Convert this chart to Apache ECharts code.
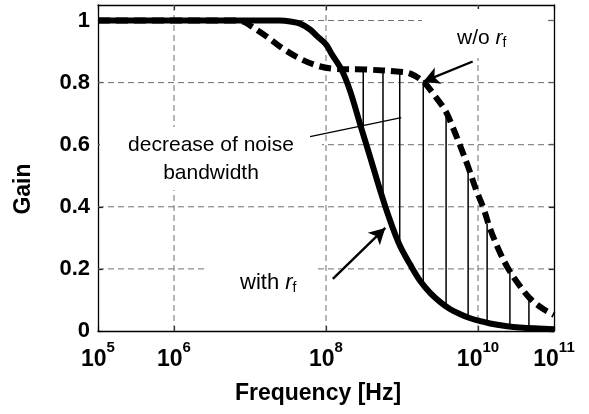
<!DOCTYPE html>
<html>
<head>
<meta charset="utf-8">
<script src="https://cdn.jsdelivr.net/npm/echarts@6.0.0/dist/echarts.min.js"></script>
<style>
  html, body { margin: 0; padding: 0; background: #fff; }
  #chart { width: 589px; height: 414px; }
</style>
</head>
<body>
<div id="chart"></div>
<script>
// Frequency is plotted as its decade exponent: f = 10^exp Hz
const decadeLabels = [5, 6, 8, 10, 11];
const decadeGrid = [6, 8, 10];
const gainTicks = [0, 0.2, 0.4, 0.6, 0.8, 1];
const gainGrid = [0.2, 0.4, 0.6, 0.8, 1];

// Response with the feedback resistor r_f
const withRfExp  = [5.0, 7.0, 7.39, 7.53, 7.66, 7.79, 7.89, 8.0, 8.08, 8.21, 8.32, 8.45, 8.58, 8.71, 8.84, 8.97, 9.11, 9.24, 9.37, 9.50, 9.63, 9.76, 9.89, 10.03, 10.16, 10.36, 10.55, 11.0];
const withRfGain = [1.0, 1.0, 1.0, 0.997, 0.99, 0.971, 0.948, 0.923, 0.89, 0.839, 0.771, 0.665, 0.561, 0.455, 0.358, 0.276, 0.213, 0.161, 0.123, 0.094, 0.071, 0.055, 0.042, 0.032, 0.024, 0.016, 0.011, 0.006];

// Response without r_f
const woRfExp  = [5.0, 6.74, 6.91, 7.0, 7.22, 7.43, 7.66, 7.88, 8.09, 8.54, 8.97, 9.11, 9.28, 9.43, 9.57, 9.66, 9.76, 9.87, 9.97, 10.07, 10.16, 10.29, 10.40, 10.53, 10.68, 10.84, 11.0];
const woRfGain = [1.0, 1.0, 0.997, 0.984, 0.948, 0.910, 0.877, 0.855, 0.845, 0.842, 0.835, 0.829, 0.803, 0.758, 0.710, 0.661, 0.600, 0.529, 0.458, 0.397, 0.329, 0.252, 0.200, 0.152, 0.106, 0.074, 0.052];

// Hatching between the two responses (bandwidth reduction)
const hatchExp    = [8.49, 8.75, 8.97, 9.28, 9.58, 9.87, 10.12, 10.42, 10.67];
const hatchTop    = [0.842, 0.839, 0.835, 0.803, 0.703, 0.529, 0.345, 0.194, 0.103];
const hatchBottom = [0.632, 0.425, 0.276, 0.148, 0.077, 0.045, 0.026, 0.015, 0.010];

// Annotation pointers, in (exp, gain)
const withRfArrow = [[8.09, 0.168], [8.78, 0.332]];
const woRfArrow = [[9.93, 0.868], [9.28, 0.803]];
const bandwidthLeader = [[7.79, 0.626], [8.99, 0.687]];

const FONT = 'Liberation Sans, Arial, Helvetica, sans-serif';
const BLACK = '#000';
const GRID_STYLE = { stroke: '#6f6f6f', lineWidth: 1, lineDash: [6, 4] };

const chart = echarts.init(document.getElementById('chart'), null, { renderer: 'canvas' });

const xAxisBase = {
  type: 'value', min: 5, max: 11, interval: 1,
  axisLine: { show: true, onZero: false, lineStyle: { color: BLACK, width: 1.3 } },
  axisTick: { show: true, inside: true, length: 5, customValues: decadeLabels, lineStyle: { color: BLACK, width: 1.2 } },
  splitLine: { show: false }
};
const yAxisBase = {
  type: 'value', min: 0, max: 1.05, interval: 0.2,
  axisLine: { show: true, onZero: false, lineStyle: { color: BLACK, width: 1.3 } },
  axisTick: { show: true, inside: true, length: 5, customValues: gainTicks, lineStyle: { color: BLACK, width: 1.2 } },
  splitLine: { show: false }
};

const option = {
  animation: false,
  backgroundColor: '#fff',
  grid: { left: 98, right: 35, top: 5, bottom: 83 },
  xAxis: [
    Object.assign({}, xAxisBase, {
      position: 'bottom',
      axisLabel: {
        customValues: decadeLabels,
        margin: 9,
        formatter: v => '{b|10}{s|' + v + '}',
        rich: {
          b: { fontSize: 23, fontWeight: 'bold', fontFamily: FONT, color: BLACK },
          s: { fontSize: 15, fontWeight: 'bold', fontFamily: FONT, color: BLACK, padding: [0, 0, 24, 0] }
        }
      }
    }),
    Object.assign({}, xAxisBase, { position: 'top', axisLabel: { show: false } })
  ],
  yAxis: [
    Object.assign({}, yAxisBase, {
      position: 'left',
      axisLabel: {
        customValues: gainTicks,
        margin: 8,
        fontSize: 22, fontWeight: 'bold', fontFamily: FONT, color: BLACK,
        formatter: v => (v === 0 || v === 1) ? String(v) : v.toFixed(1)
      }
    }),
    Object.assign({}, yAxisBase, { position: 'right', axisLabel: { show: false } })
  ],
  series: [
    {
      // vertical decade grid lines
      type: 'custom', z: 1, silent: true,
      data: decadeGrid.map(v => [v]),
      encode: { x: 0 },
      renderItem: (params, api) => {
        const p0 = api.coord([api.value(0), 0]);
        const p1 = api.coord([api.value(0), 1.05]);
        return { type: 'line', shape: { x1: p0[0], y1: p0[1], x2: p1[0], y2: p1[1] }, style: GRID_STYLE };
      }
    },
    {
      // horizontal gain grid lines
      type: 'custom', z: 1, silent: true,
      data: gainGrid.map(v => [5, v]),
      encode: { x: 0, y: 1 },
      renderItem: (params, api) => {
        const p0 = api.coord([5, api.value(1)]);
        const p1 = api.coord([11, api.value(1)]);
        return { type: 'line', shape: { x1: p0[0], y1: p0[1], x2: p1[0], y2: p1[1] }, style: GRID_STYLE };
      }
    },
    {
      // hatching strokes
      type: 'custom', z: 3, silent: true,
      data: hatchExp.map((e, i) => [e, hatchBottom[i], hatchTop[i]]),
      encode: { x: 0, y: [1, 2] },
      renderItem: (params, api) => {
        const p0 = api.coord([api.value(0), api.value(1)]);
        const p1 = api.coord([api.value(0), api.value(2)]);
        return { type: 'line', shape: { x1: p0[0], y1: p0[1], x2: p1[0], y2: p1[1] }, style: { stroke: BLACK, lineWidth: 1.5 } };
      }
    },
    {
      name: 'w/o rf', type: 'line', z: 4, silent: true,
      data: woRfExp.map((e, i) => [e, woRfGain[i]]),
      showSymbol: false, smooth: 0.35,
      lineStyle: { color: BLACK, width: 6, type: [12, 6], cap: 'butt' }
    },
    {
      name: 'with rf', type: 'line', z: 4, silent: true,
      data: withRfExp.map((e, i) => [e, withRfGain[i]]),
      showSymbol: false, smooth: 0.35,
      lineStyle: { color: BLACK, width: 6 }
    },
    {
      // annotation pointers
      type: 'line', z: 5, silent: true, data: [],
      markLine: {
        silent: true, animation: false,
        label: { show: false },
        emphasis: { disabled: true },
        data: [
          [
            { coord: withRfArrow[0], symbol: 'none', lineStyle: { color: BLACK, width: 2.4, type: 'solid' } },
            { coord: withRfArrow[1], symbol: 'arrow', symbolSize: [13, 16] }
          ],
          [
            { coord: woRfArrow[0], symbol: 'none', lineStyle: { color: BLACK, width: 2.4, type: 'solid' } },
            { coord: woRfArrow[1], symbol: 'arrow', symbolSize: [13, 16] }
          ],
          [
            { coord: bandwidthLeader[0], symbol: 'none', lineStyle: { color: BLACK, width: 1.3, type: 'solid' } },
            { coord: bandwidthLeader[1], symbol: 'none' }
          ]
        ]
      }
    }
  ],
  graphic: [
    // white backings behind the annotation text
    { type: 'rect', z: 2, silent: true, shape: { x: 100, y: 127, width: 222, height: 63 }, style: { fill: '#fff' } },
    { type: 'rect', z: 2, silent: true, shape: { x: 207, y: 262, width: 111, height: 38 }, style: { fill: '#fff' } },
    { type: 'rect', z: 2, silent: true, shape: { x: 422, y: 9, width: 126, height: 49 }, style: { fill: '#fff' } },
    {
      type: 'text', z: 6, silent: true, x: 211, y: 159,
      style: {
        text: 'decrease of noise\nbandwidth', align: 'center', verticalAlign: 'middle',
        fontSize: 21, fontFamily: FONT, fill: BLACK, lineHeight: 28
      }
    },
    {
      type: 'text', z: 6, silent: true, x: 240, y: 283,
      style: {
        text: '{n|with }{i|r}{s|f}', align: 'left', verticalAlign: 'middle',
        rich: {
          n: { fontSize: 22, fontFamily: FONT, fill: BLACK },
          i: { fontSize: 22, fontFamily: FONT, fontStyle: 'italic', fill: BLACK },
          s: { fontSize: 14, fontFamily: FONT, fill: BLACK, padding: [10, 0, 0, 0] }
        }
      }
    },
    {
      type: 'text', z: 6, silent: true, x: 457, y: 38,
      style: {
        text: '{n|w/o }{i|r}{s|f}', align: 'left', verticalAlign: 'middle',
        rich: {
          n: { fontSize: 21, fontFamily: FONT, fill: BLACK },
          i: { fontSize: 21, fontFamily: FONT, fontStyle: 'italic', fill: BLACK },
          s: { fontSize: 14, fontFamily: FONT, fill: BLACK, padding: [10, 0, 0, 0] }
        }
      }
    },
    {
      type: 'text', z: 6, silent: true, x: 318, y: 394,
      style: { text: 'Frequency [Hz]', align: 'center', verticalAlign: 'middle', fontSize: 23, fontWeight: 'bold', fontFamily: FONT, fill: BLACK }
    },
    {
      type: 'text', z: 6, silent: true, x: 24, y: 189, rotation: Math.PI / 2,
      style: { text: 'Gain', align: 'center', verticalAlign: 'middle', fontSize: 23, fontWeight: 'bold', fontFamily: FONT, fill: BLACK }
    }
  ]
};

chart.setOption(option);
</script>
</body>
</html>
